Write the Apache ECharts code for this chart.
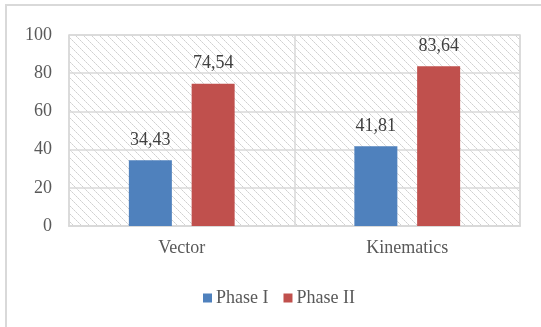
<!DOCTYPE html>
<html>
<head>
<meta charset="utf-8">
<style>
  html, body { margin: 0; padding: 0; background: #ffffff; }
  #chart { width: 541px; height: 327px; }
</style>
<script src="https://cdn.jsdelivr.net/npm/echarts@6/dist/echarts.min.js"></script>
</head>
<body>
<div id="chart"></div>
<script>
// Chart data
const categories = ['Vector', 'Kinematics'];
const seriesNames = ['Phase I', 'Phase II'];
const phase1 = [34.43, 41.81];
const phase2 = [74.54, 83.64];
const yTicks = { min: 0, max: 100, interval: 20 };

const seriesColors = ['#4F81BD', '#C0504D'];
const textFont = '"Liberation Serif", "Times New Roman", serif';

// Diagonal hatch tile for the plot background
function makeHatch() {
  const size = 8;
  const c = document.createElement('canvas');
  c.width = size; c.height = size;
  const ctx = c.getContext('2d');
  ctx.fillStyle = '#ffffff';
  ctx.fillRect(0, 0, size, size);
  ctx.fillStyle = '#d0d0d0';
  for (let i = 0; i < size; i++) {
    ctx.globalAlpha = (i % 2 === 0) ? 1 : 0.65;
    ctx.fillRect(i, i, 1, 1);
  }
  ctx.globalAlpha = 1;
  return c;
}

const chart = echarts.init(document.getElementById('chart'), null, { renderer: 'canvas' });

const labelFmt = p => p.value.toFixed(2).replace('.', ',');

chart.setOption({
  animation: false,
  backgroundColor: '#ffffff',
  textStyle: { fontFamily: textFont },
  graphic: [{
    type: 'rect',
    shape: { x: 6, y: 5, width: 600, height: 400 },
    style: { fill: 'none', stroke: '#d9d9d9', lineWidth: 2 },
    silent: true,
    z: -1
  }],
  grid: {
    left: 69, right: 21, top: 35, bottom: 101,
    show: true,
    backgroundColor: { image: makeHatch(), repeat: 'repeat' },
    borderColor: '#d9d9d9',
    borderWidth: 1.5
  },
  legend: {
    data: seriesNames,
    top: 284,
    left: 198,
    itemWidth: 9,
    itemHeight: 9,
    itemGap: 15,
    icon: 'rect',
    textStyle: { fontFamily: textFont, fontSize: 18, color: '#595959', padding: [0, 0, 0, -1] }
  },
  xAxis: {
    type: 'category',
    data: categories,
    axisLine: { lineStyle: { color: '#d9d9d9', width: 2 } },
    axisTick: { show: false },
    splitLine: { show: true, lineStyle: { color: '#d9d9d9', width: 1.5 } },
    axisLabel: { fontFamily: textFont, fontSize: 18, color: '#595959', margin: 13 }
  },
  yAxis: {
    type: 'value',
    min: yTicks.min, max: yTicks.max, interval: yTicks.interval,
    axisLine: { show: false },
    axisTick: { show: false },
    splitLine: { lineStyle: { color: '#d9d9d9', width: 1.5 } },
    axisLabel: { fontFamily: textFont, fontSize: 18, color: '#595959', margin: 17 }
  },
  series: [
    {
      name: seriesNames[0], type: 'bar', data: phase1,
      itemStyle: { color: seriesColors[0] },
      barWidth: 43, barGap: '46%',
      label: { show: true, position: 'top', distance: 11, formatter: labelFmt,
               fontFamily: textFont, fontSize: 18, color: '#404040' }
    },
    {
      name: seriesNames[1], type: 'bar', data: phase2,
      itemStyle: { color: seriesColors[1] },
      barWidth: 43,
      label: { show: true, position: 'top', distance: 11, formatter: labelFmt,
               fontFamily: textFont, fontSize: 18, color: '#404040' }
    }
  ]
});
</script>
</body>
</html>
